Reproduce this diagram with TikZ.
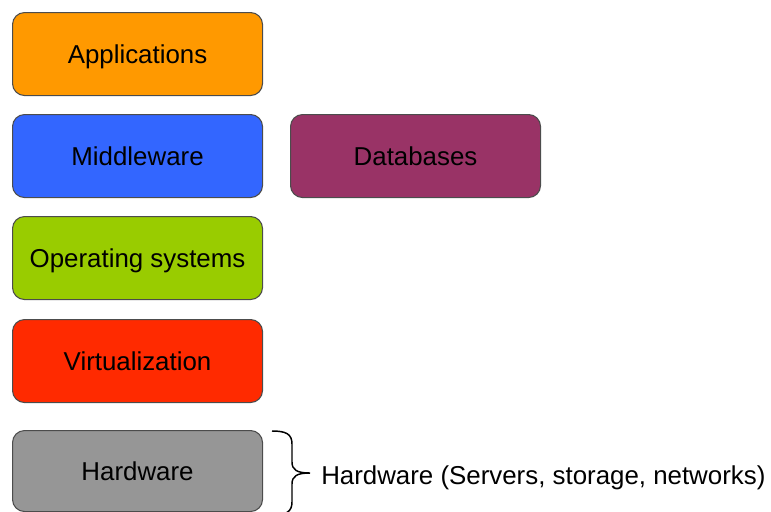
\documentclass[tikz,border=0pt]{standalone}
\usepackage{fontspec}
\setmainfont{Liberation Sans}
\begin{document}
\begin{tikzpicture}[x=0.75pt,y=-0.75pt,
  layer/.style={draw=black!70, line width=0.8pt, rounded corners=9pt, minimum width=250*0.75pt, minimum height=83*0.75pt, inner sep=0pt, anchor=north west, text height=13.8pt, text depth=0pt, font=\fontsize{19.4}{23}\selectfont},
  lbl/.style={font=\fontsize{19.4}{23}\selectfont, anchor=base west, inner sep=0pt}]
\useasboundingbox (0,0) rectangle (771,511);
\definecolor{capp}{HTML}{FF9900}
\definecolor{cmid}{HTML}{3366FF}
\definecolor{cdb}{HTML}{993366}
\definecolor{cos}{HTML}{99CC00}
\definecolor{cvirt}{HTML}{FF2A00}
\definecolor{chw}{HTML}{969696}
\node[layer, fill=capp] (app) at (12,12) {Applications};
\node[layer, fill=cmid] (mid) at (12,114) {Middleware};
\node[layer, fill=cdb] (db) at (290,114) {Databases};
\node[layer, fill=cos] (os) at (12,216) {Operating systems};
\node[layer, fill=cvirt] (virt) at (12,319) {Virtualization};
\node[layer, fill=chw, minimum height=81*0.75pt] (hw) at (12,430) {Hardware};
\coordinate (btop) at (272,431);
\coordinate (bbot) at (272,515);
\coordinate (btip) at (310,473);
\draw[line width=1.1pt] (btop) .. controls (286,431) and (292,434) .. (292,444)
  -- (292,462) .. controls (292,470) and (297,473) .. (btip)
  .. controls (297,473) and (292,476) .. (292,484)
  -- (292,502) .. controls (292,512) and (286,515) .. (bbot);
\node[lbl] (hwlbl) at (321,484) {Hardware (Servers, storage, networks)};
\end{tikzpicture}
\end{document}
